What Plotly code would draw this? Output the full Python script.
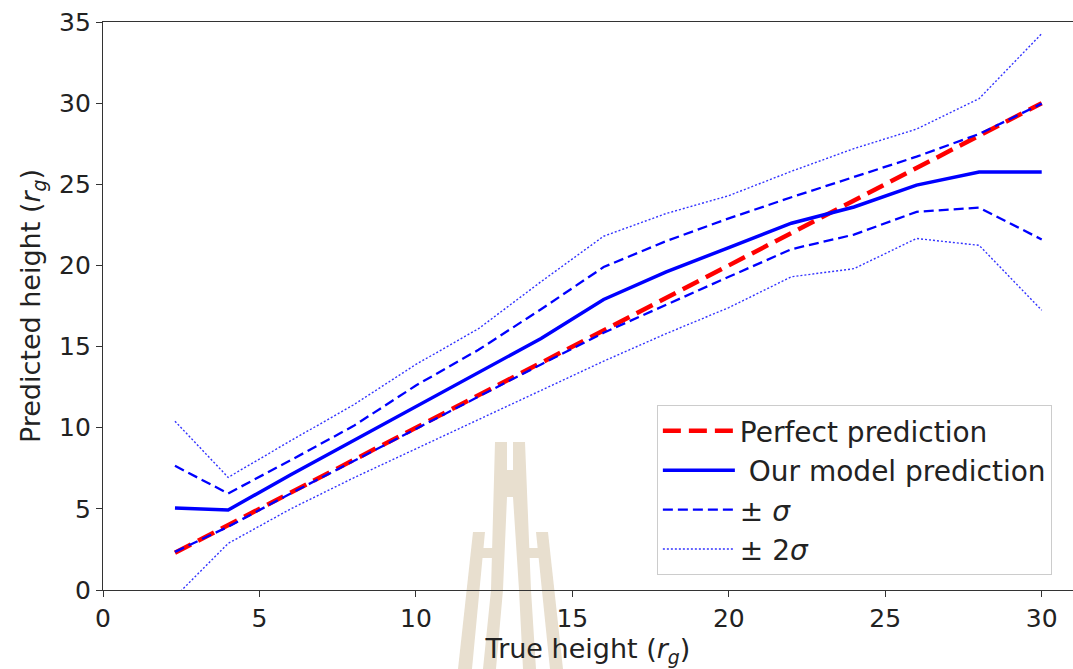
import plotly.graph_objects as go

# True heights at which the model was evaluated
true_height = [2.3, 4, 6, 8, 10, 12, 14, 16, 18, 20, 22, 24, 26, 28, 30]
perfect = list(true_height)

# Mean model prediction and its spread bands
model_mean = [5.05, 4.93, 7.1, 9.2, 11.35, 13.4, 15.5, 17.9, 19.6, 21.1, 22.6, 23.6, 24.95, 25.76, 25.76]
plus_sigma = [7.65, 5.95, 8.0, 10.1, 12.6, 14.8, 17.3, 19.9, 21.5, 22.9, 24.2, 25.45, 26.7, 28.1, 29.97]
minus_sigma = [2.35, 3.9, 5.95, 7.95, 9.9, 11.9, 13.9, 15.85, 17.6, 19.3, 21.0, 21.9, 23.3, 23.56, 21.6]
plus_2sigma = [10.4, 6.94, 9.2, 11.4, 13.9, 16.1, 19.0, 21.8, 23.2, 24.3, 25.8, 27.2, 28.4, 30.28, 34.28]
minus_2sigma = [-0.43, 2.87, 5.0, 6.9, 8.7, 10.5, 12.3, 14.1, 15.8, 17.4, 19.3, 19.8, 21.66, 21.24, 17.24]

x_ticks = [0, 5, 10, 15, 20, 25, 30]
y_ticks = [0, 5, 10, 15, 20, 25, 30, 35]

FONT = "DejaVu Sans"
TEXT = "#222222"
W, H = 1073, 669
M_L, M_R, M_T, M_B = 103, 0, 22, 79

fig = go.Figure()

fig.add_trace(go.Scatter(
    x=true_height, y=perfect, mode="lines", name="Perfect prediction",
    line=dict(color="#ff0000", width=4.5, dash="18px,8px"),
))
fig.add_trace(go.Scatter(
    x=true_height, y=model_mean, mode="lines", name=" Our model prediction",
    line=dict(color="#0000ff", width=3.5),
))
fig.add_trace(go.Scatter(
    x=true_height, y=plus_sigma, mode="lines", name="± <i>σ</i>",
    line=dict(color="#0000ff", width=2.3, dash="10px,5px"), legendgroup="s1",
))
fig.add_trace(go.Scatter(
    x=true_height, y=minus_sigma, mode="lines", name="± <i>σ</i>",
    line=dict(color="#0000ff", width=2.3, dash="10px,5px"), legendgroup="s1",
    showlegend=False,
))
fig.add_trace(go.Scatter(
    x=true_height, y=plus_2sigma, mode="lines", name="± 2<i>σ</i>",
    line=dict(color="#3333ff", width=1.4, dash="2px,2px"), legendgroup="s2",
))
fig.add_trace(go.Scatter(
    x=true_height, y=minus_2sigma, mode="lines", name="± 2<i>σ</i>",
    line=dict(color="#3333ff", width=1.4, dash="2px,2px"), legendgroup="s2",
    showlegend=False,
))

# Faint tower emblem behind the plot
pw, ph = W - M_L - M_R, H - M_T - M_B


def px_to_paper(pts):
    return [((px - M_L) / pw, (H - M_B - py) / ph) for px, py in pts]


def poly(pts):
    p = px_to_paper(pts)
    return "M " + " L ".join(f"{a:.5f},{b:.5f}" for a, b in p) + " Z"


emblem = [
    # inner legs with twin prongs on top
    [(495, 442), (507, 442), (507, 497), (503, 590), (496, 669), (483, 669), (491, 590)],
    [(513, 442), (525, 442), (531, 590), (536, 669), (523, 669), (519, 590), (513, 497)],
    [(506, 470), (514, 470), (514, 497), (506, 497)],
    # outer prongs
    [(473, 532), (485, 532), (472, 669), (458, 669)],
    [(536, 532), (548, 532), (563, 669), (550, 669)],
    # cross bars
    [(482, 548), (497, 548), (497, 558), (481, 558)],
    [(522, 548), (539, 548), (540, 558), (523, 558)],
]
shapes = [
    dict(type="path", path=poly(p), xref="paper", yref="paper",
         fillcolor="#e8dfcf", line=dict(width=0), layer="below")
    for p in emblem
]

fig.update_layout(
    width=W, height=H,
    margin=dict(l=M_L, r=M_R, t=M_T, b=M_B, pad=0),
    paper_bgcolor="white", plot_bgcolor="white",
    font=dict(family=FONT, color=TEXT, size=25),
    shapes=shapes,
    showlegend=True,
    legend=dict(
        x=0.571, y=0.3255, xanchor="left", yanchor="top",
        bgcolor="rgba(255,255,255,0.85)", bordercolor="#cccccc", borderwidth=1,
        font=dict(family=FONT, size=28, color=TEXT),
        itemwidth=72, tracegroupgap=0,
    ),
    xaxis=dict(
        range=[0, 31.0], tickvals=x_ticks, ticktext=[str(v) for v in x_ticks],
        showgrid=False, zeroline=False, showline=True, linecolor="#333333",
        linewidth=1.3, mirror=True, ticks="outside", ticklen=6, tickwidth=1.2,
        tickcolor="#333333", tickfont=dict(size=25, color=TEXT),
        title=dict(text="True height (<i>r</i><sub><i>g</i></sub>)",
                   font=dict(size=27, color=TEXT), standoff=6),
    ),
    yaxis=dict(
        range=[0, 35], tickvals=y_ticks, ticktext=[str(v) for v in y_ticks],
        showgrid=False, zeroline=False, showline=True, linecolor="#333333",
        linewidth=1.3, mirror=False, ticks="outside", ticklen=6, tickwidth=1.2,
        tickcolor="#333333", tickfont=dict(size=25, color=TEXT),
        title=dict(text="Predicted height (<i>r</i><sub><i>g</i></sub>)",
                   font=dict(size=27, color=TEXT), standoff=10),
    ),
)

fig.write_html("out.html")
